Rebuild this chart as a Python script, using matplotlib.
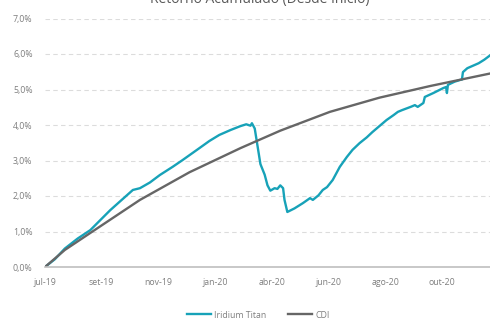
import matplotlib
matplotlib.use("Agg")
import matplotlib.pyplot as plt
import numpy as np

# Retorno acumulado (%) - eixo x em dias úteis desde jul-19
fund_x = [0, 7, 14, 23, 32, 39, 46, 53, 62, 67, 74, 81, 90, 97, 109, 116, 123, 131,
          138, 142, 145, 146, 148, 150, 152, 155, 157, 159, 162, 164, 166, 168, 169,
          171, 176, 182, 187, 189, 193, 196, 199, 203, 208, 213, 217, 222, 227, 231,
          236, 241, 246, 249, 252, 258, 261, 263, 267, 268, 274, 281, 283, 283.6,
          284.3, 289, 293, 294.2, 294.9, 298, 302, 306, 310, 314]
fund_y = [0.00, 0.22, 0.52, 0.80, 1.04, 1.32, 1.60, 1.85, 2.17, 2.22, 2.38, 2.59, 2.82,
          3.01, 3.35, 3.55, 3.72, 3.86, 3.97, 4.02, 3.98, 4.05, 3.90, 3.40, 2.90, 2.60,
          2.30, 2.15, 2.22, 2.20, 2.30, 2.22, 1.89, 1.55, 1.65, 1.80, 1.94, 1.89, 2.02,
          2.17, 2.25, 2.45, 2.82, 3.10, 3.30, 3.49, 3.65, 3.80, 3.97, 4.14, 4.28, 4.37,
          4.42, 4.51, 4.56, 4.51, 4.62, 4.79, 4.90, 5.04, 5.07, 4.90, 5.13, 5.22, 5.27,
          5.28, 5.49, 5.60, 5.67, 5.74, 5.84, 5.96]

cdi_x = [0, 14, 32, 67, 102, 138, 166, 201, 236, 272, 314]
cdi_y = [0.00, 0.48, 0.96, 1.89, 2.67, 3.35, 3.84, 4.37, 4.77, 5.10, 5.45]

tick_pos = [0, 40, 80, 120, 160, 200, 240, 280]
tick_labels = ["jul-19", "set-19", "nov-19", "jan-20", "abr-20", "jun-20", "ago-20", "out-20"]

plt.rcParams['font.family'] = ['Open Sans', 'DejaVu Sans']

fig = plt.figure(figsize=(4.9, 3.19), dpi=100)
ax = fig.add_axes([45 / 490, 1 - 267 / 319, 1 - 45 / 490, (267 - 18.5) / 319])

ax.plot(fund_x, fund_y, color='#17a2b8', lw=1.7, label='Iridium Titan', solid_joinstyle='round')
ax.plot(cdi_x, cdi_y, color='#666666', lw=1.7, label='CDI')

ax.set_xlim(0, 314)
ax.set_ylim(0, 7)
ax.set_yticks(np.arange(0, 8, 1))
ax.set_yticklabels([f"{v:.1f}%".replace('.', ',') for v in range(8)])
ax.set_xticks(tick_pos)
ax.set_xticklabels(tick_labels)

for v in range(1, 8):
    ax.axhline(v, color='#dcdcdc', lw=0.8, ls=(0, (4, 3)), zorder=0)

for s in ['top', 'right', 'left']:
    ax.spines[s].set_visible(False)
ax.spines['bottom'].set_color('#bfbfbf')
ax.spines['bottom'].set_linewidth(1.2)
ax.tick_params(axis='both', length=0, labelsize=6.3, labelcolor='#7f7f7f')
ax.tick_params(axis='y', pad=9)
ax.tick_params(axis='x', pad=8)

fig.text(0.53, 1.0, "Retorno Acumulado (Desde Início)", ha='center', va='center',
         fontsize=10, color='#595959')

ax.legend(loc='center', bbox_to_anchor=(258 / 490, 4 / 319), bbox_transform=fig.transFigure,
          ncol=2, frameon=False, fontsize=6.3, labelcolor='#7f7f7f', handlelength=2.8,
          handletextpad=0.3, columnspacing=2.5)

fig.savefig("out.png", dpi=100)
